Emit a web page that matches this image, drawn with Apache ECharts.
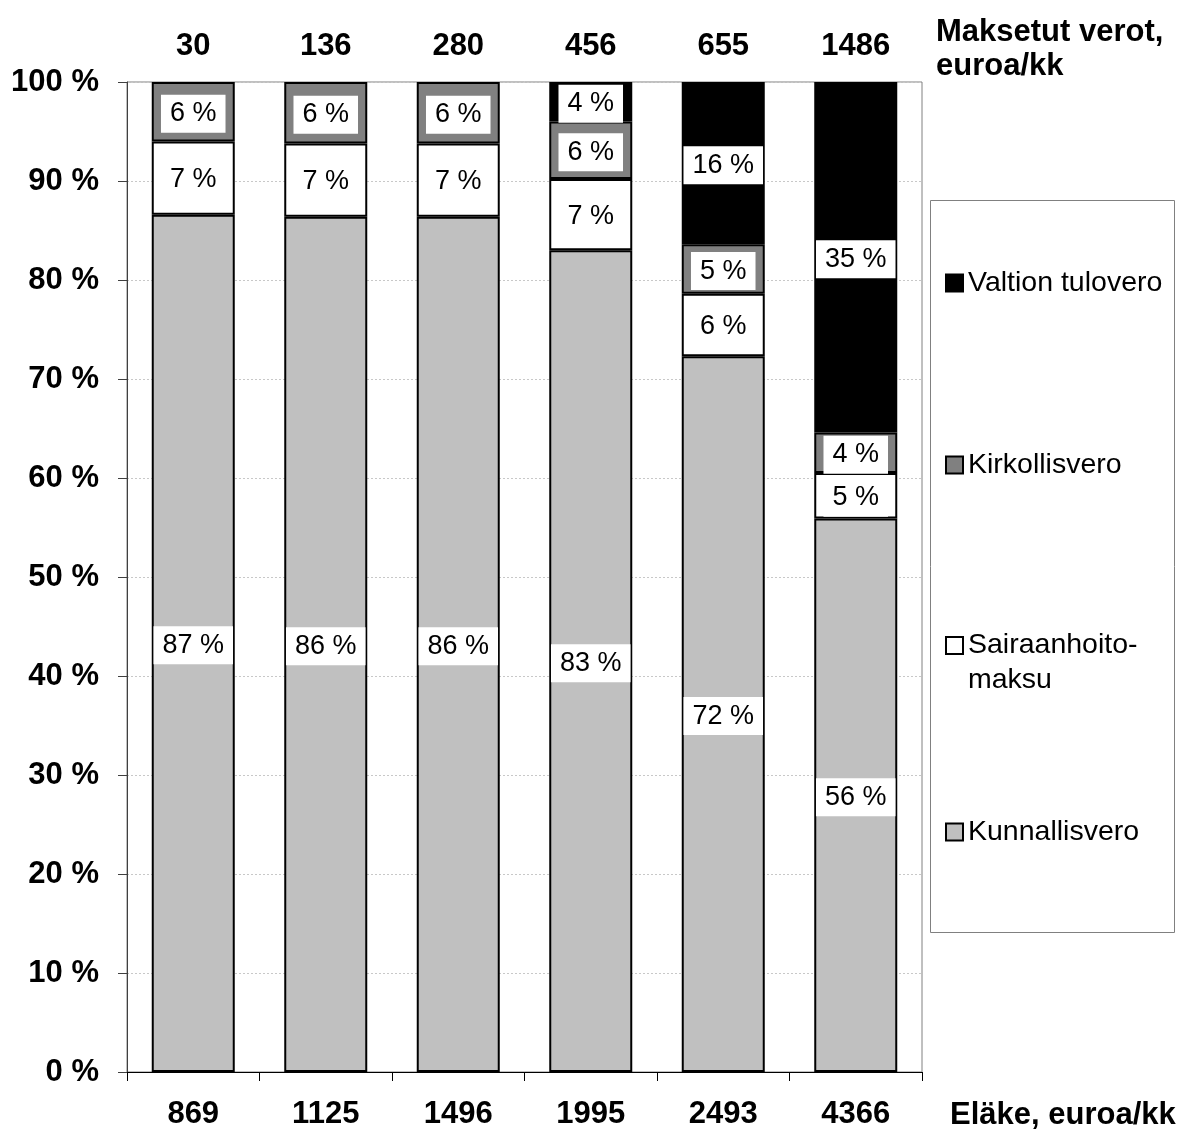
<!DOCTYPE html>
<html>
<head>
<meta charset="utf-8">
<script src="https://cdn.jsdelivr.net/npm/echarts@6/dist/echarts.min.js"></script>
<style>
html,body{margin:0;padding:0;background:#fff;}
#chart{width:1189px;height:1131px;}
</style>
</head>
<body>
<div id="chart"></div>
<script>
// Data
const pensionLabels = ['869', '1125', '1496', '1995', '2493', '4366'];
const taxesPaid = ['30', '136', '280', '456', '655', '1486'];
const kunnallisvero = [86.6, 86.4, 86.4, 83.0, 72.3, 55.9];
const sairaanhoitomaksu = [7.4, 7.4, 7.4, 7.2, 6.3, 4.6];
const kirkollisvero = [6.0, 6.2, 6.2, 5.8, 5.0, 4.1];
const valtionTulovero = [0, 0, 0, 4.0, 16.4, 35.4];
const yTicks = [0, 10, 20, 30, 40, 50, 60, 70, 80, 90, 100];

const FONT = "'Liberation Sans', Arial, sans-serif";

const labelStyle = {
  show: true,
  position: 'inside',
  formatter: p => Math.round(p.value) + ' %',
  backgroundColor: '#ffffff',
  color: '#000',
  fontFamily: FONT,
  fontSize: 27,
  lineHeight: 28,
  padding: [5, 9, 5, 9]
};

function mkSeries(name, values, color) {
  return {
    name: name,
    type: 'bar',
    stack: 'total',
    barWidth: 83,
    data: values.map(v => (v === 0 ? '-' : v)),
    itemStyle: { color: color, borderColor: '#000', borderWidth: 2 },
    label: Object.assign({}, labelStyle, { offset: [0, 2] }),
    emphasis: { disabled: true }
  };
}

const chart = echarts.init(document.getElementById('chart'), null, { renderer: 'canvas' });

function legendFor(name, centerY, extra) {
  return Object.assign({
    data: [name],
    orient: 'vertical',
    left: 940,
    top: centerY - 17,
    itemWidth: 17,
    itemHeight: 17,
    icon: 'rect',
    selectedMode: false,
    itemStyle: { borderColor: '#000', borderWidth: 2 },
    textStyle: { fontFamily: FONT, fontSize: 28.5, lineHeight: 34, color: '#000' }
  }, extra || {});
}

const option = {
  animation: false,
  backgroundColor: '#ffffff',
  title: [
    {
      text: 'Maksetut verot,\neuroa/kk',
      left: 931, top: 10,
      textStyle: { fontFamily: FONT, fontSize: 31, fontWeight: 'bold', lineHeight: 34, color: '#000' }
    },
    {
      text: 'Eläke, euroa/kk',
      left: 945, top: 1093,
      textStyle: { fontFamily: FONT, fontSize: 31, fontWeight: 'bold', lineHeight: 34, color: '#000' }
    }
  ],
  legend: [
    legendFor('Valtion tulovero', 278),
    legendFor('Kirkollisvero', 460),
    {
      data: ['Sairaanhoitomaksu'],
      orient: 'vertical',
      left: 940,
      top: 644 - 56,
      itemWidth: 17,
      itemHeight: 17,
      icon: 'rect',
      selectedMode: false,
      itemStyle: { borderColor: '#000', borderWidth: 2 },
      formatter: () => ' \nSairaanhoito-\nmaksu',
      textStyle: { fontFamily: FONT, fontSize: 28.5, lineHeight: 35, color: '#000' }
    },
    legendFor('Kunnallisvero', 827)
  ],
  graphic: [
    {
      type: 'rect',
      shape: { x: 930.5, y: 200.5, width: 244, height: 732 },
      style: { fill: 'none', stroke: '#808080', lineWidth: 1 },
      z: 0
    }
  ],
  grid: {
    left: 127, right: 267, top: 82, bottom: 59,
    show: true, borderColor: '#808080', borderWidth: 1, backgroundColor: 'transparent'
  },
  xAxis: [
    {
      type: 'category',
      data: pensionLabels,
      position: 'bottom',
      axisLine: { lineStyle: { color: '#000', width: 1 } },
      axisTick: { show: true, length: 9, lineStyle: { color: '#000' } },
      axisLabel: { margin: 27, fontFamily: FONT, fontSize: 31, fontWeight: 'bold', color: '#000' },
      splitLine: { show: false }
    },
    {
      type: 'category',
      data: taxesPaid,
      position: 'top',
      axisLine: { show: false },
      axisTick: { show: false },
      axisLabel: { margin: 20, fontFamily: FONT, fontSize: 31, fontWeight: 'bold', color: '#000' },
      splitLine: { show: false }
    }
  ],
  yAxis: {
    type: 'value',
    min: yTicks[0],
    max: yTicks[yTicks.length - 1],
    interval: 10,
    axisLine: { show: true, lineStyle: { color: '#404040', width: 1 } },
    axisTick: { show: true, length: 9, lineStyle: { color: '#404040' } },
    axisLabel: { margin: 28, formatter: '{value} %', fontFamily: FONT, fontSize: 31, fontWeight: 'bold', color: '#000' },
    splitLine: { show: true, lineStyle: { color: '#c8c8c8', type: [2, 2], width: 1 } }
  },
  series: [
    mkSeries('Kunnallisvero', kunnallisvero, '#c0c0c0'),
    mkSeries('Sairaanhoitomaksu', sairaanhoitomaksu, '#ffffff'),
    mkSeries('Kirkollisvero', kirkollisvero, '#808080'),
    mkSeries('Valtion tulovero', valtionTulovero, '#000000')
  ]
};

chart.setOption(option);
</script>
</body>
</html>
